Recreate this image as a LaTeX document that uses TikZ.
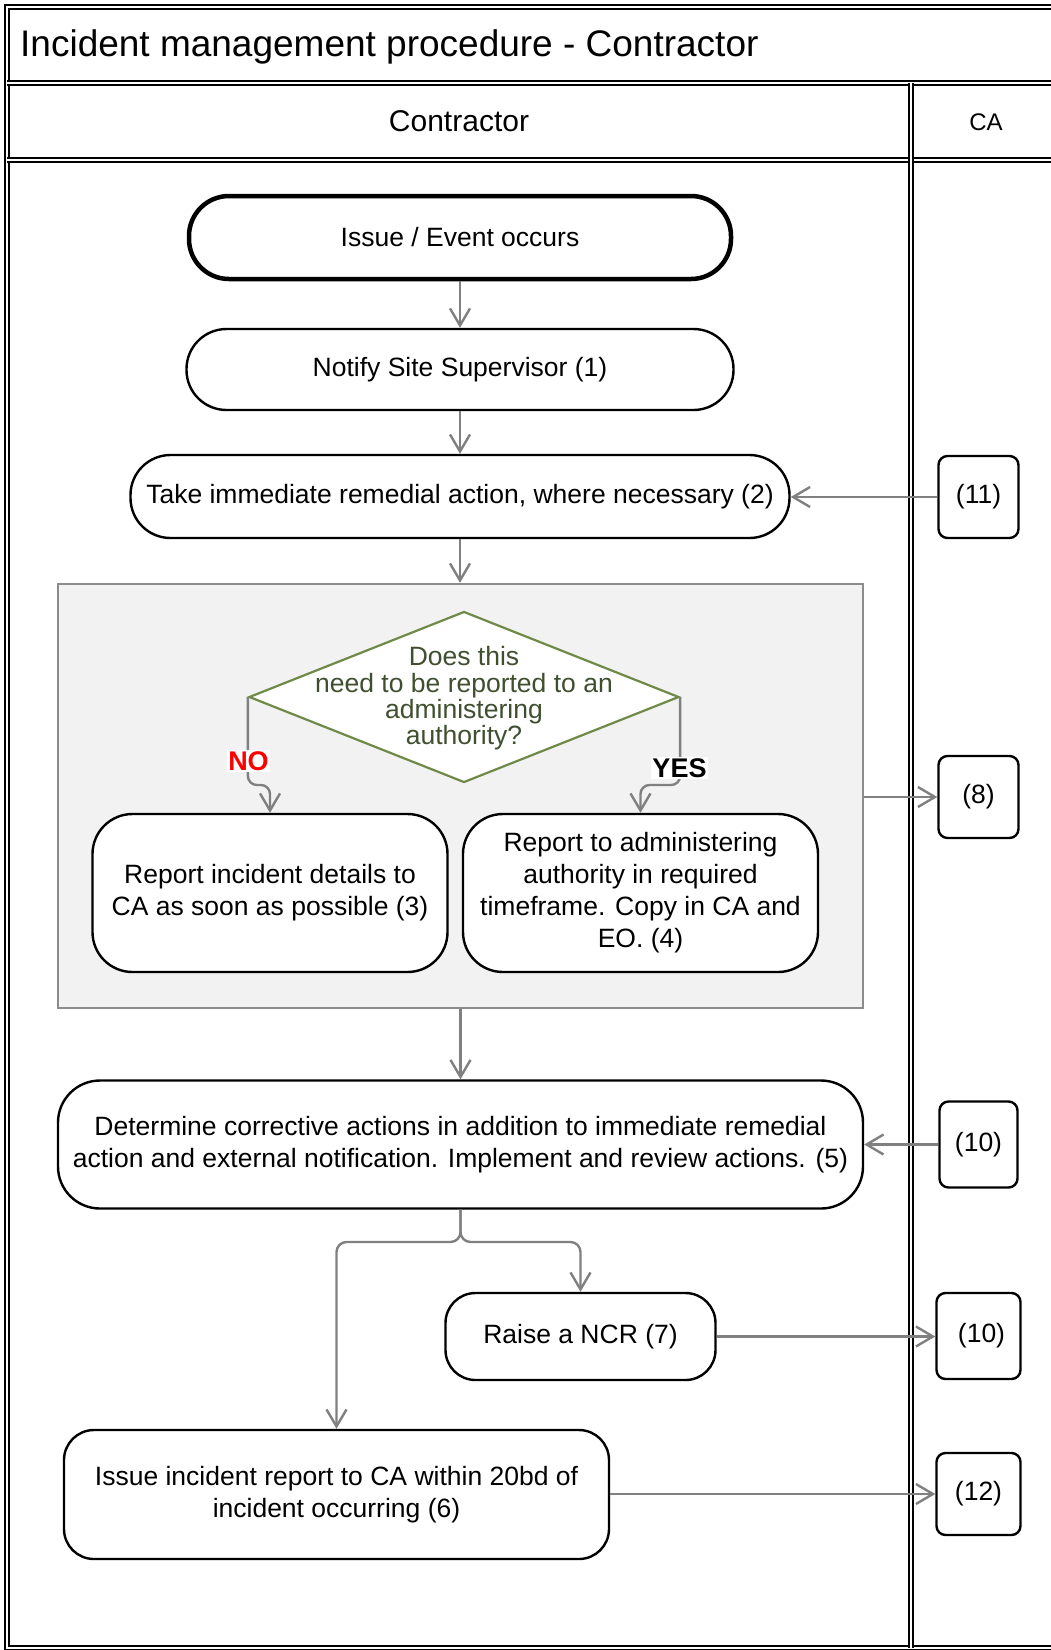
\documentclass[tikz,border=0pt]{standalone}
\usepackage{fontspec}
\setmainfont{Liberation Sans}
\usetikzlibrary{arrows.meta,shapes.geometric,calc}
\definecolor{conngray}{HTML}{808080}
\definecolor{grpfill}{HTML}{F2F2F2}
\definecolor{grpline}{HTML}{8C8C8C}
\definecolor{diagreen}{HTML}{6E8A46}
\definecolor{diatext}{HTML}{3F4F2F}
\newcommand\fnode{\fontsize{26.5}{32}\selectfont}
\newcommand\fdia{\fontsize{26.5}{26.3}\selectfont}
\newcommand\ftitle{\fontsize{37}{44}\selectfont}
\newcommand\fhead{\fontsize{30}{36}\selectfont}
\newcommand\fca{\fontsize{24}{28}\selectfont}
\newcommand\flab{\fontsize{27}{30}\selectfont\bfseries}
\begin{document}
\begin{tikzpicture}[x=1pt,y=-1pt,
  proc/.style={draw=black, line width=2.4pt, fill=white, align=center, inner sep=0pt, font=\fnode},
  startnode/.style={proc, line width=4.5pt, rounded corners=40pt},
  pill/.style={proc, rounded corners=40pt},
  cabox/.style={proc, rounded corners=9pt, minimum width=80pt},
  conn/.style={draw=conngray, line width=2.4pt, -{Straight Barb[length=17pt,width=20pt]}},
  dbl/.style={draw=black, double=white, double distance=2.6pt, line width=1.3pt},
  lab/.style={fill=white, inner sep=1.5pt, font=\flab},
  ]
\useasboundingbox (0,0) rectangle (1051,1650);
\clip (0,0) rectangle (1051,1650);
\fill[white] (0,0) rectangle (1051,1650);

% frame
\draw[dbl] (1080,7) -- (7,7) -- (7,1648) -- (1080,1648);
\draw[dbl] (7,83) -- (1080,83);
\draw[dbl] (7,160) -- (1080,160);
\draw[dbl] (911,83) -- (911,1648);

\node[anchor=west, inner sep=0pt, font=\ftitle] (title) at (20,47) {Incident management procedure - Contractor};
\node[inner sep=0pt, font=\fhead] (hcon) at (459,121) {Contractor};
\node[inner sep=0pt, font=\fca] (hca) at (986,122) {CA};

% group box
\node[draw=grpline, fill=grpfill, line width=2.4pt, minimum width=805pt, minimum height=424pt, inner sep=0pt] (grp) at (460.5,796) {};

% main nodes
\node[startnode, minimum width=542pt, minimum height=83pt] (n1) at (460,237.5) {Issue / Event occurs};
\node[pill, minimum width=547pt, minimum height=81pt] (n2) at (460,369.5) {Notify Site Supervisor (1)};
\node[pill, minimum width=659pt, minimum height=83pt] (n3) at (460,496.5) {Take immediate remedial action, where necessary (2)};

\node[diamond, draw=diagreen, line width=2.2pt, fill=white, minimum width=430pt, minimum height=171pt, inner sep=0pt] (dia) at (464,697) {};
\node[align=center, inner sep=0pt, text=diatext, font=\fdia] (diatxt) at (464,698.5) {Does this\\need to be reported to an\\administering\\authority?};

\node[proc, rounded corners=40pt, minimum width=355pt, minimum height=158pt] (b3) at (270,893) {Report incident details to\\CA as soon as possible (3)};
\node[proc, rounded corners=40pt, minimum width=355pt, minimum height=158pt] (b4) at (640.5,893) {Report to administering\\authority in required\\timeframe. Copy in CA and\\EO. (4)};

\node[proc, rounded corners=42pt, minimum width=805pt, minimum height=128pt] (n5) at (460.5,1144.5) {Determine corrective actions in addition to immediate remedial\\action and external notification. Implement and review actions. (5)};
\node[proc, rounded corners=30pt, minimum width=270pt, minimum height=87pt] (ncr) at (580.5,1336.5) {Raise a NCR (7)};
\node[proc, rounded corners=30pt, minimum width=545pt, minimum height=129pt] (n6) at (336.5,1494.5) {Issue incident report to CA within 20bd of\\incident occurring (6)};

% CA lane boxes
\node[cabox, minimum height=82pt] (ca11) at (978.5,497) {(11)};
\node[cabox, minimum height=82pt] (ca8) at (978.5,797) {(8)};
\node[cabox, minimum width=78pt, minimum height=86pt] (ca10a) at (978.5,1144.5) {(10)};
\node[cabox, minimum width=84pt, minimum height=86pt] (ca10b) at (978.5,1336) {\hspace*{6pt}(10)};
\node[cabox, minimum width=84pt, minimum height=82pt] (ca12) at (978.5,1494) {(12)};

% connectors
\draw[conn] (n1.south) -- (n2.north);
\draw[conn] (n2.south) -- (n3.north);
\draw[conn] (n3.south) -- (n3.south |- grp.north);
\draw[conn] (ca11.west) -- (ca11.west -| n3.east);
\draw[conn, rounded corners=9pt] (dia.west) -- ($(dia.west)+(0,88)$) -| (b3.north);
\draw[conn, rounded corners=9pt] (dia.east) -- ($(dia.east)+(0,88)$) -| (b4.north);
\node[lab, text=red] (lno) at (248.5,761) {NO};
\node[lab, text=black] (lyes) at (679.5,768) {YES};
\draw[conn] (grp.east |- ca8.west) -- (ca8.west);
\draw[conn] (grp.south) -- (n5.north);
\draw[conn] (ca10a.west) -- (ca10a.west -| n5.east);
\coordinate (split) at (460.5,1242);
\draw[conn, rounded corners=10pt] (n5.south) -- (split) -| (ncr.north);
\draw[conn, rounded corners=10pt] (n5.south) -- (split) -| (n6.north);
\draw[conn] (ncr.east) -- (ncr.east -| ca10b.west);
\draw[conn] (n6.east |- ca12.west) -- (ca12.west);
\end{tikzpicture}
\end{document}
